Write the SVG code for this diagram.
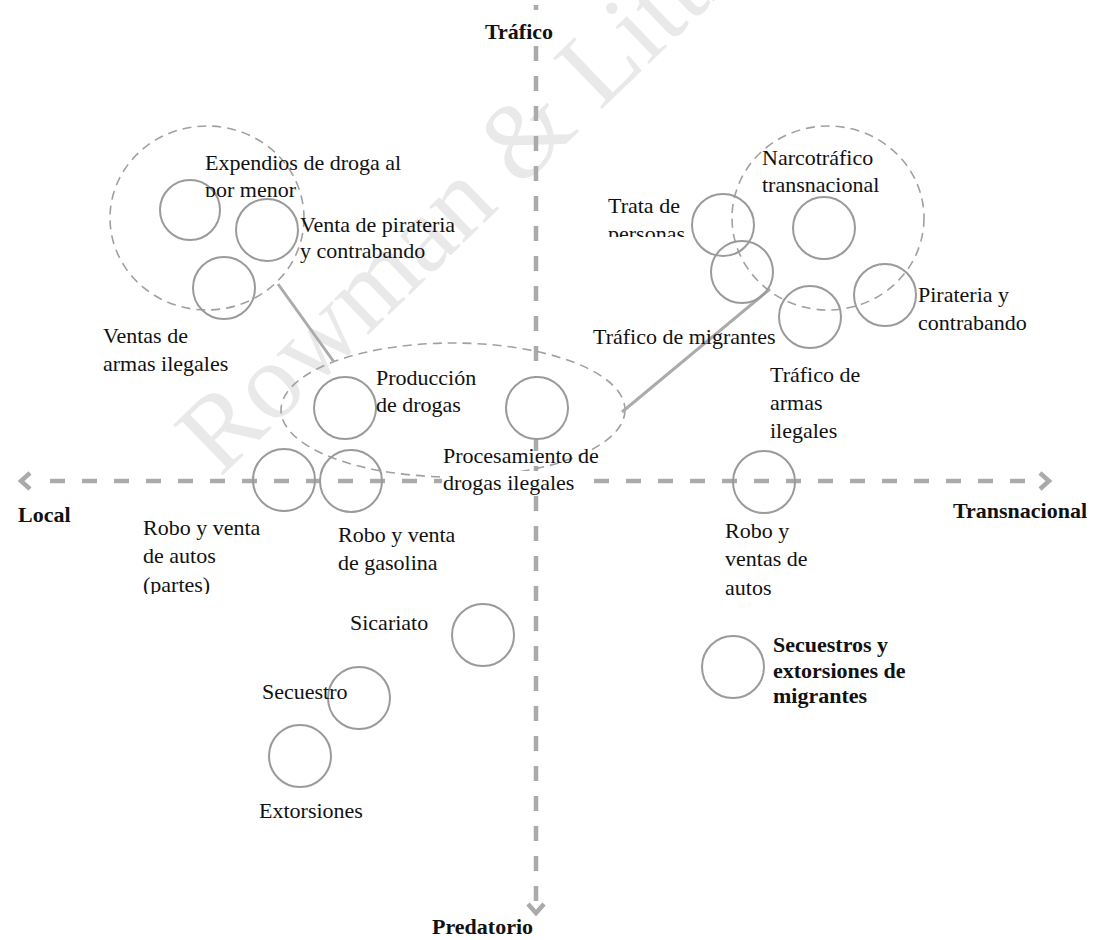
<svg xmlns="http://www.w3.org/2000/svg" width="1099" height="940" viewBox="0 0 1099 940">
<style>
  text { font-family: "Liberation Serif", "Times New Roman", serif; font-size: 22px; fill: #111; }
  .b { font-weight: bold; }
  .node circle { fill: none; stroke: #9a9a9a; stroke-width: 2; }
  .grp { fill: none; stroke: #a0a0a0; stroke-width: 1.6; stroke-dasharray: 9 6; }
  .axis { fill: none; stroke: #aaaaaa; stroke-width: 4.5; }
  .link { stroke: #ababab; stroke-width: 3; fill: none; }
  .wm { font-size: 108px; fill: #e9e9e9; }
</style>
<defs>
  <clipPath id="cp1"><rect x="200" y="150" width="200" height="47"/></clipPath>
  <clipPath id="cp2"><rect x="600" y="190" width="120" height="47"/></clipPath>
  <clipPath id="cp3"><rect x="130" y="500" width="200" height="94"/></clipPath>
</defs>
<rect width="1099" height="940" fill="#ffffff"/>
<text class="wm" transform="translate(220,478) rotate(-44)">Rowman &amp; Littlefield</text>

<g id="axes">
  <line class="axis" x1="536" y1="5" x2="536" y2="10"/>
  <line class="axis" x1="536" y1="46" x2="536" y2="905" stroke-dasharray="15 15"/>
  <polyline class="axis" points="528,904 536,913 544,904"/>
  <line class="axis" x1="50" y1="481" x2="1040" y2="481" stroke-dasharray="15 17"/>
  <polyline class="axis" points="30,473 21,481 30,489"/>
  <polyline class="axis" points="1040,473 1049,481 1040,489"/>
</g>

<g id="groups">
  <ellipse class="grp" cx="207" cy="218" rx="97" ry="92"/>
  <ellipse class="grp" cx="828" cy="218" rx="96" ry="92"/>
  <ellipse class="grp" cx="453" cy="410" rx="172" ry="67"/>
</g>

<g id="connectors">
  <line class="link" x1="278" y1="284" x2="334" y2="362"/>
  <line class="link" x1="622" y1="412" x2="770" y2="289"/>
</g>

<g id="labels-axes">
  <text class="b" x="485" y="39">Tráfico</text>
  <text class="b" x="432" y="934">Predatorio</text>
  <text class="b" x="18" y="522">Local</text>
  <text class="b" x="953" y="518">Transnacional</text>
</g>

<g id="n-expendios" class="node">
  <circle cx="190" cy="210" r="30"/>
  <text x="205" y="170">Expendios de droga al</text>
  <text x="205" y="197" clip-path="url(#cp1)">por menor</text>
</g>
<g id="n-venta-pirateria" class="node">
  <circle cx="267" cy="230" r="31"/>
  <text x="300" y="232">Venta de pirateria</text>
  <text x="300" y="258">y contrabando</text>
</g>
<g id="n-ventas-armas" class="node">
  <circle cx="224" cy="288" r="31"/>
  <text x="103" y="343">Ventas de</text>
  <text x="103" y="371">armas ilegales</text>
</g>
<g id="n-trata" class="node">
  <circle cx="723" cy="225" r="31"/>
  <text x="608" y="213">Trata de</text>
  <text x="608" y="241" clip-path="url(#cp2)">personas</text>
</g>
<g id="n-narco" class="node">
  <circle cx="824" cy="228" r="31"/>
  <text x="762" y="165">Narcotráfico</text>
  <text x="762" y="192">transnacional</text>
</g>
<g id="n-migrantes" class="node">
  <circle cx="742" cy="272" r="31"/>
  <text x="593" y="344">Tráfico de migrantes</text>
</g>
<g id="n-armas-trans" class="node">
  <circle cx="810" cy="317" r="31"/>
  <text x="770" y="382">Tráfico de</text>
  <text x="770" y="410">armas</text>
  <text x="770" y="438">ilegales</text>
</g>
<g id="n-pirateria" class="node">
  <circle cx="885" cy="295" r="31"/>
  <text x="918" y="302">Pirateria y</text>
  <text x="918" y="330">contrabando</text>
</g>
<g id="n-produccion" class="node">
  <circle cx="345" cy="408" r="31"/>
  <text x="376" y="385">Producción</text>
  <text x="376" y="412">de drogas</text>
</g>
<g id="n-procesamiento" class="node">
  <circle cx="537" cy="408" r="31" style="fill:#ffffff"/>
  <rect x="442" y="471" width="150" height="20" fill="#ffffff"/>
  <text x="443" y="463">Procesamiento de</text>
  <text x="443" y="490">drogas ilegales</text>
</g>
<g id="n-autos-partes" class="node">
  <circle cx="284" cy="480" r="31"/>
  <text x="143" y="535">Robo y venta</text>
  <text x="143" y="563">de autos</text>
  <text x="143" y="592" clip-path="url(#cp3)">(partes)</text>
</g>
<g id="n-gasolina" class="node">
  <circle cx="351" cy="481" r="31"/>
  <text x="338" y="542">Robo y venta</text>
  <text x="338" y="570">de gasolina</text>
</g>
<g id="n-autos-trans" class="node">
  <circle cx="764" cy="482" r="31"/>
  <text x="725" y="538">Robo y</text>
  <text x="725" y="566">ventas de</text>
  <text x="725" y="595">autos</text>
</g>
<g id="n-sicariato" class="node">
  <circle cx="483" cy="635" r="31"/>
  <text x="350" y="630">Sicariato</text>
</g>
<g id="n-secuestro" class="node">
  <circle cx="359" cy="698" r="31"/>
  <text x="262" y="699">Secuestro</text>
</g>
<g id="n-extorsiones" class="node">
  <circle cx="300" cy="756" r="31"/>
  <text x="259" y="818">Extorsiones</text>
</g>
<g id="n-secuestros-migrantes" class="node">
  <circle cx="733" cy="667" r="31"/>
  <text class="b" x="773" y="652">Secuestros y</text>
  <text class="b" x="773" y="678">extorsiones de</text>
  <text class="b" x="773" y="703">migrantes</text>
</g>
</svg>
